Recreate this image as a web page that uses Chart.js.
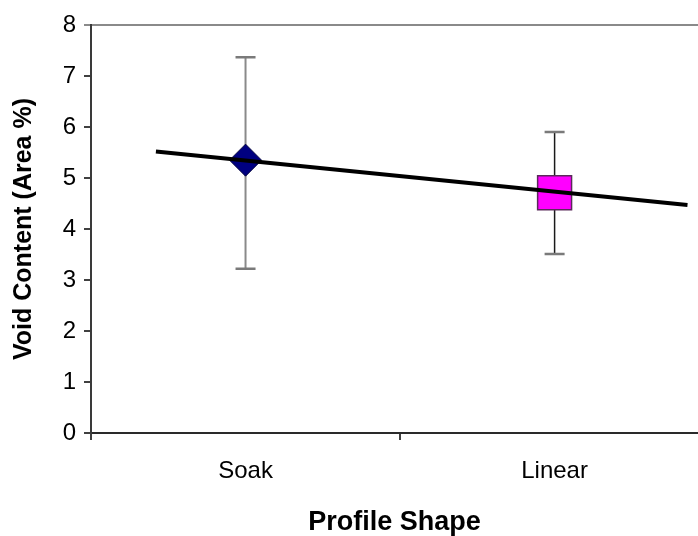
<!DOCTYPE html>
<html>
<head>
<meta charset="utf-8">
<script src="https://cdn.jsdelivr.net/npm/chart.js@4.4.1/dist/chart.umd.min.js"></script>
<style>
    html, body { margin: 0; padding: 0; background: #fff; overflow: hidden; }
    #wrap { width: 698px; height: 536px; position: relative; }
</style>
</head>
<body>
<div id="wrap"><canvas id="voidChart"></canvas></div>
<script>
// values
const categories = ['Soak', 'Linear'];
const meanVoid = [5.35, 4.71];
const errLow = [3.22, 3.51];
const errHigh = [7.37, 5.90];

// fitted trend line, end points as drawn
const trendX = [0.21, 1.93];
const trendY = [5.52, 4.47];

const yTicks = [0, 1, 2, 3, 4, 5, 6, 7, 8];

// category i sits in the middle of its slot
const catPos = categories.map((c, i) => i + 0.5);
const X_MAX = 1.964;

const FONT = '"Liberation Sans", Arial, sans-serif';

// draws the whiskers behind the markers
const errorBars = {
    id: 'errorBars',
    beforeDatasetsDraw(chart) {
        const ctx = chart.ctx;
        const xs = chart.scales.x;
        const ys = chart.scales.y;
        const whiskerColors = ['#8a8a8a', '#1a1a1a'];
        const whiskerWidths = [2, 1.5];
        ctx.save();
        catPos.forEach((p, i) => {
            const x = xs.getPixelForValue(p);
            const top = ys.getPixelForValue(errHigh[i]);
            const bot = ys.getPixelForValue(errLow[i]);
            ctx.strokeStyle = whiskerColors[i];
            ctx.lineWidth = whiskerWidths[i];
            ctx.beginPath();
            ctx.moveTo(x, top);
            ctx.lineTo(x, bot);
            ctx.stroke();
            ctx.strokeStyle = '#7a7a7a';
            ctx.lineWidth = 2.5;
            ctx.beginPath();
            ctx.moveTo(x - 10, top);
            ctx.lineTo(x + 10, top);
            ctx.moveTo(x - 10, bot);
            ctx.lineTo(x + 10, bot);
            ctx.stroke();
        });
        ctx.restore();
    }
};

const chart = new Chart(document.getElementById('voidChart'), {
    type: 'scatter',
    data: {
        datasets: [
            {
                type: 'line',
                label: 'trend',
                data: trendX.map((x, i) => ({x: x, y: trendY[i]})),
                borderColor: '#000000',
                borderWidth: 4,
                pointRadius: 0,
                fill: false,
                order: 0
            },
            {
                label: categories[0],
                data: [{x: catPos[0], y: meanVoid[0]}],
                pointStyle: 'rectRot',
                pointRadius: 16,
                backgroundColor: '#000080',
                borderColor: '#00003a',
                borderWidth: 1,
                order: 1
            },
            {
                label: categories[1],
                data: [{x: catPos[1], y: meanVoid[1]}],
                pointStyle: 'rect',
                pointRadius: 24,
                backgroundColor: '#ff00ff',
                borderColor: '#5a2a5a',
                borderWidth: 1.5,
                order: 1
            }
        ]
    },
    options: {
        responsive: true,
        maintainAspectRatio: false,
        animation: false,
        layout: {autoPadding: false, padding: {top: 25, right: 0, bottom: 0, left: 0}},
        plugins: {
            legend: {display: false},
            tooltip: {enabled: false}
        },
        scales: {
            x: {
                type: 'linear',
                min: 0,
                max: X_MAX,
                afterBuildTicks(scale) {
                    // empty tick at the right edge keeps the plot flush with the canvas
                    scale.ticks = [0, 0.5, 1, 1.5, X_MAX].map(v => ({value: v}));
                },
                afterFit(scale) {
                    scale.height = 103;
                    scale.paddingRight = 0;
                },
                ticks: {
                    autoSkip: false,
                    maxRotation: 0,
                    padding: 17,
                    color: '#000',
                    font: {family: FONT, size: 24},
                    callback(value) {
                        const i = catPos.indexOf(value);
                        return i >= 0 ? categories[i] : '';
                    }
                },
                grid: {
                    drawOnChartArea: false,
                    drawTicks: true,
                    tickLength: 7,
                    lineWidth: 2,
                    tickColor: ctx => (ctx.tick && (ctx.tick.value === 0 || ctx.tick.value === 1)) ? '#404040' : 'rgba(0,0,0,0)'
                },
                border: {display: true, color: '#2a2a2a', width: 2},
                title: {
                    display: true,
                    text: 'Profile Shape',
                    color: '#000',
                    font: {family: FONT, size: 27, weight: 'bold'},
                    padding: {top: 0, bottom: -3}
                }
            },
            y: {
                min: 0,
                max: 8,
                afterBuildTicks(scale) {
                    scale.ticks = yTicks.map(v => ({value: v}));
                },
                afterFit(scale) {
                    scale.width = 91;
                },
                ticks: {
                    padding: 8,
                    color: '#000',
                    font: {family: FONT, size: 24}
                },
                grid: {
                    drawTicks: true,
                    tickLength: 7,
                    lineWidth: 2,
                    color: ctx => (ctx.tick && ctx.tick.value === 8) ? '#8a8a8a' : 'rgba(0,0,0,0)',
                    tickColor: ctx => (ctx.tick && ctx.tick.value === 8) ? '#8a8a8a' : '#404040'
                },
                border: {display: true, color: '#3a3a3a', width: 2},
                title: {
                    display: true,
                    text: 'Void Content (Area %)',
                    color: '#000',
                    font: {family: FONT, size: 25, weight: 'bold'},
                    padding: {top: 9, bottom: 0}
                }
            }
        }
    },
    plugins: [errorBars]
});
</script>
</body>
</html>
